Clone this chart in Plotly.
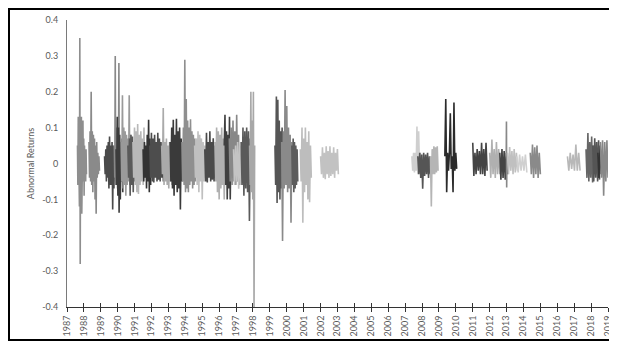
import numpy as np
import plotly.graph_objects as go

# ---------------- data ----------------
years = list(range(1987, 2020))
year_labels = [str(y) for y in years]
y_ticks = [0.4, 0.3, 0.2, 0.1, 0.0, -0.1, -0.2, -0.3, -0.4]
y_tick_labels = ["0.4", "0.3", "0.2", "0.1", "0", "-0.1", "-0.2", "-0.3", "-0.4"]

# event windows (decimal years)
event_start = [1987.62, 1988.30, 1989.22, 1989.80, 1989.90, 1990.20, 1990.60, 1990.90,
               1991.50, 1991.90, 1992.60, 1993.10, 1993.80, 1994.55, 1995.15, 1995.75,
               1996.30, 1996.60, 1996.85, 1997.30, 1997.80, 1999.30, 1999.70, 2000.30,
               2000.80, 2002.00, 2007.40, 2007.75, 2008.50, 2009.35, 2011.00, 2012.00,
               2012.60, 2012.98, 2013.05, 2013.60, 2014.40, 2016.60, 2017.70, 2018.10,
               2018.40, 2018.55]
event_end = [1988.15, 1988.92, 1989.85, 1990.15, 1990.30, 1990.80, 1991.10, 1991.60,
             1991.95, 1992.70, 1993.30, 1993.80, 1994.60, 1995.20, 1995.80, 1996.40,
             1996.70, 1997.20, 1997.40, 1997.90, 1998.10, 1999.85, 2000.35, 2000.65,
             2001.45, 2003.05, 2007.95, 2008.50, 2008.95, 2010.05, 2011.85, 2012.60,
             2013.05, 2013.02, 2013.65, 2014.20, 2015.00, 2017.35, 2018.20, 2018.50,
             2018.60, 2019.00]

ar_01 = [0.05, -0.06, 0.13, -0.09, 0.10, -0.12, 0.35, -0.28, 0.12, -0.10, 0.13, -0.14,
         0.08, -0.07, 0.12, -0.05, 0.07, -0.09, 0.05, -0.04, 0.03, -0.05, 0.04, -0.03]
ar_02 = [0.06, -0.04, 0.09, -0.05, 0.20, -0.06, 0.09, -0.08, 0.08, -0.05, 0.07, -0.10,
         0.05, -0.14, 0.06, -0.04, 0.03, -0.03, 0.02, -0.02]
ar_03 = [0.02, -0.03, 0.04, -0.05, 0.05, -0.04, 0.06, -0.07, 0.075, -0.06, 0.05, -0.06,
         0.06, -0.128, 0.05, -0.07, 0.04, -0.04]
ar_04 = [0.05, -0.04, 0.30, -0.06, 0.08, -0.05, 0.10, -0.07, 0.06, -0.05, 0.28, -0.06,
         0.05, -0.04]
ar_05 = [0.04, -0.06, 0.13, -0.09, 0.10, -0.137, 0.08, -0.10, 0.06, -0.05, 0.07, -0.08]
ar_06 = [0.06, -0.05, 0.19, -0.07, 0.10, -0.06, 0.09, -0.09, 0.08, -0.06, 0.07, -0.05,
         0.19, -0.06, 0.08, -0.05]
ar_07 = [0.05, -0.04, 0.07, -0.09, 0.08, -0.06, 0.075, -0.08, 0.06, -0.05, 0.05, -0.06]
ar_08 = [0.06, -0.04, 0.10, -0.06, 0.09, -0.08, 0.11, -0.085, 0.08, -0.06, 0.09, -0.05,
         0.07, -0.06, 0.10, -0.04]
ar_09 = [0.04, -0.05, 0.06, -0.04, 0.05, -0.07, 0.08, -0.05, 0.122, -0.08, 0.07, -0.06]
ar_10 = [0.05, -0.04, 0.086, -0.05, 0.07, -0.053, 0.08, -0.04, 0.06, -0.05, 0.086, -0.045,
         0.07, -0.05, 0.06, -0.04, 0.05, -0.05]
ar_11 = [0.05, -0.03, 0.155, -0.06, 0.06, -0.05, 0.07, -0.06, 0.05, -0.07, 0.06, -0.05,
         0.04, -0.06, 0.05, -0.04]
ar_12 = [0.06, -0.05, 0.10, -0.07, 0.122, -0.09, 0.08, -0.06, 0.125, -0.08, 0.09, -0.07,
         0.10, -0.128, 0.07, -0.05]
ar_13 = [0.06, -0.05, 0.10, -0.06, 0.289, -0.08, 0.18, -0.07, 0.12, -0.08, 0.10, -0.06,
         0.123, -0.05, 0.09, -0.07, 0.08, -0.06, 0.07, -0.05]
ar_14 = [0.05, -0.04, 0.07, -0.06, 0.09, -0.08, 0.08, -0.05, 0.07, -0.10, 0.06, -0.05,
         0.05, -0.04]
ar_15 = [0.04, -0.05, 0.086, -0.053, 0.06, -0.04, 0.09, -0.05, 0.06, -0.045, 0.07, -0.05,
         0.05, -0.04]
ar_16 = [0.06, -0.05, 0.10, -0.08, 0.09, -0.10, 0.08, -0.07, 0.10, -0.06, 0.07, -0.10,
         0.06, -0.05]
ar_17 = [0.05, 0.136, -0.06, 0.09, -0.10, 0.08, -0.07, 0.13, -0.10, 0.06]
ar_18 = [0.07, -0.05, 0.10, -0.06, 0.12, -0.05, 0.09, -0.06, 0.136, -0.05, 0.08, -0.06]
ar_19 = [0.04, -0.06, 0.05, -0.05, 0.06, -0.07, 0.05, -0.06, 0.05, -0.05]
ar_20 = [0.06, -0.06, 0.10, -0.09, 0.09, -0.07, 0.10, -0.08, 0.09, -0.16, 0.07, -0.06]
ar_21 = [0.05, -0.06, 0.20, -0.08, 0.12, -0.10, 0.20, -0.41, 0.05]
ar_22 = [0.05, -0.06, 0.187, -0.11, 0.178, -0.08, 0.12, -0.10, 0.09, -0.07, 0.10, -0.06,
         0.08, -0.05]
ar_23 = [0.06, -0.216, 0.09, -0.07, 0.205, -0.06, 0.16, -0.08, 0.10, -0.07, 0.08, -0.165,
         0.06, -0.05]
ar_24 = [0.05, -0.06, 0.07, -0.08, 0.06, -0.07, 0.05, -0.06, 0.04, -0.05]
ar_25 = [0.04, -0.05, 0.10, -0.165, 0.07, -0.08, 0.10, -0.06, 0.06, -0.10, 0.09, -0.108,
         0.05, -0.04]
ar_26 = [0.02, -0.03, 0.045, -0.04, 0.03, -0.044, 0.048, -0.03, 0.035, -0.04, 0.048, -0.035,
         0.03, -0.03, 0.045, -0.04, 0.03, -0.02, 0.04, -0.03]
ar_27 = [0.02, -0.02, 0.03, -0.025, 0.03, -0.02, 0.103, -0.03, 0.09, -0.02, 0.03, -0.025]
ar_28 = [0.02, -0.03, 0.03, -0.04, 0.025, -0.07, 0.03, -0.035, 0.025, -0.03, 0.03, -0.04,
         0.02, -0.03]
ar_29 = [0.02, -0.12, 0.04, -0.03, 0.048, -0.03, 0.045, -0.025, 0.048, -0.02]
ar_30 = [0.02, 0.18, -0.08, 0.03, -0.02, 0.03, 0.14, -0.015, 0.02, -0.08, 0.17, -0.02,
         0.03, -0.015]
ar_31 = [0.058, -0.035, 0.03, -0.03, 0.04, -0.02, 0.035, -0.03, 0.058, -0.03, 0.04, -0.035,
         0.058, -0.02]
ar_32 = [0.03, -0.04, 0.067, -0.03, 0.04, -0.04, 0.06, -0.03, 0.04, -0.03]
ar_33 = [0.03, -0.045, 0.04, -0.04, 0.035, -0.045, 0.03, -0.03]
ar_34 = [0.02, 0.117, -0.067, 0.01]
ar_35 = [0.03, -0.03, 0.046, -0.02, 0.035, -0.03, 0.04, -0.025, 0.03, -0.02]
ar_36 = [0.02, -0.025, 0.025, -0.02, 0.02, -0.02, 0.025, -0.025]
ar_37 = [0.03, -0.03, 0.053, -0.04, 0.045, -0.03, 0.05, -0.04, 0.03, -0.03]
ar_38 = [0.02, -0.02, 0.03, -0.015, 0.025, -0.02, 0.053, -0.02, 0.03, -0.02]
ar_39 = [0.04, -0.04, 0.085, -0.05, 0.06, -0.04, 0.075, -0.053, 0.05, -0.03]
ar_40 = [0.05, -0.05, 0.07, -0.04, 0.06, -0.05, 0.065, -0.045]
ar_41 = [0.03, -0.04, 0.05, -0.03]
ar_42 = [0.06, -0.04, 0.065, -0.09, 0.06, -0.05, 0.065, -0.04]

event_returns = [ar_01, ar_02, ar_03, ar_04, ar_05, ar_06, ar_07, ar_08, ar_09, ar_10,
                 ar_11, ar_12, ar_13, ar_14, ar_15, ar_16, ar_17, ar_18, ar_19, ar_20,
                 ar_21, ar_22, ar_23, ar_24, ar_25, ar_26, ar_27, ar_28, ar_29, ar_30,
                 ar_31, ar_32, ar_33, ar_34, ar_35, ar_36, ar_37, ar_38, ar_39, ar_40,
                 ar_41, ar_42]

# ---------------- styles ----------------
shades = ["#8e8e8e", "#8a8a8a", "#4a4a4a", "#888888", "#3c3c3c", "#9a9a9a", "#5a5a5a",
          "#b8b8b8", "#333333", "#4d4d4d", "#aaaaaa", "#3a3a3a", "#8f8f8f", "#c0c0c0",
          "#4a4a4a", "#b0b0b0", "#404040", "#888888", "#c4c4c4", "#5a5a5a", "#a8a8a8",
          "#555555", "#8a8a8a", "#5c5c5c", "#bdbdbd", "#c2c2c2", "#cfcfcf", "#555555",
          "#b5b5b5", "#2b2b2b", "#444444", "#b0b0b0", "#444444", "#888888", "#c0c0c0",
          "#d0d0d0", "#8a8a8a", "#b8b8b8", "#666666", "#555555", "#333333", "#888888"]

FONT = "Lato, 'Open Sans', sans-serif"
GREY_TXT = "#595959"

fig = go.Figure()
for s, e, vals, c in zip(event_start, event_end, event_returns, shades):
    xs = np.linspace(s, e, len(vals))
    fig.add_trace(go.Scatter(x=xs, y=vals, mode="lines",
                             line=dict(color=c, width=1.6),
                             showlegend=False, hoverinfo="skip"))

# dummy trace for the inside-tick overlay axis
fig.add_trace(go.Scatter(x=[years[0]], y=[0], xaxis="x2", mode="markers",
                         marker=dict(opacity=0), showlegend=False, hoverinfo="skip"))

# page body adds an 8px offset; figure laid out in its own coordinates
OFF = 8
W, H = 617 - OFF, 345 - OFF
L, T = 67 - OFF, 20 - OFF
R = W - (608 - OFF)
B = H - (307 - OFF)
pw, ph = W - L - R, H - T - B

fig.update_layout(
    width=W, height=H,
    margin=dict(l=L, r=R, t=T, b=B, autoexpand=False),
    paper_bgcolor="white", plot_bgcolor="white",
    font=dict(family=FONT, size=9, color=GREY_TXT),
    xaxis=dict(range=[years[0], years[-1]], tickmode="array", tickvals=years,
               ticktext=year_labels, tickangle=-90, ticks="outside", ticklen=4,
               tickcolor="#333333", tickwidth=1, showline=True, linecolor="#333333",
               linewidth=1, showgrid=False, zeroline=False, automargin=False,
               tickfont=dict(size=9, color=GREY_TXT, family=FONT)),
    xaxis2=dict(range=[years[0], years[-1]], overlaying="x", side="bottom", anchor="y",
                tickmode="array", tickvals=years, ticks="inside", ticklen=4,
                tickcolor="#333333", tickwidth=1, showticklabels=False,
                showline=False, showgrid=False, zeroline=False),
    yaxis=dict(range=[-0.4, 0.4], tickmode="array", tickvals=y_ticks,
               ticktext=y_tick_labels, ticks="", showline=True, linecolor="#7a7a7a",
               linewidth=1, showgrid=False, zeroline=False, ticklabelstandoff=6,
               automargin=False,
               tickfont=dict(size=9, color=GREY_TXT, family=FONT),
               title=dict(text="Abnormal Returns", standoff=6,
                          font=dict(size=9, color=GREY_TXT, family=FONT))),
)

# outer black frame around the whole chart (screen coords 7..614 x 6..341)
fig.add_shape(type="rect", xref="paper", yref="paper",
              x0=(1 - L) / pw, x1=(614 - OFF - L) / pw,
              y0=(H - B - (340 - OFF)) / ph, y1=(H - B - 1) / ph,
              line=dict(color="black", width=2), fillcolor="rgba(0,0,0,0)")

fig.write_html("out.html")
